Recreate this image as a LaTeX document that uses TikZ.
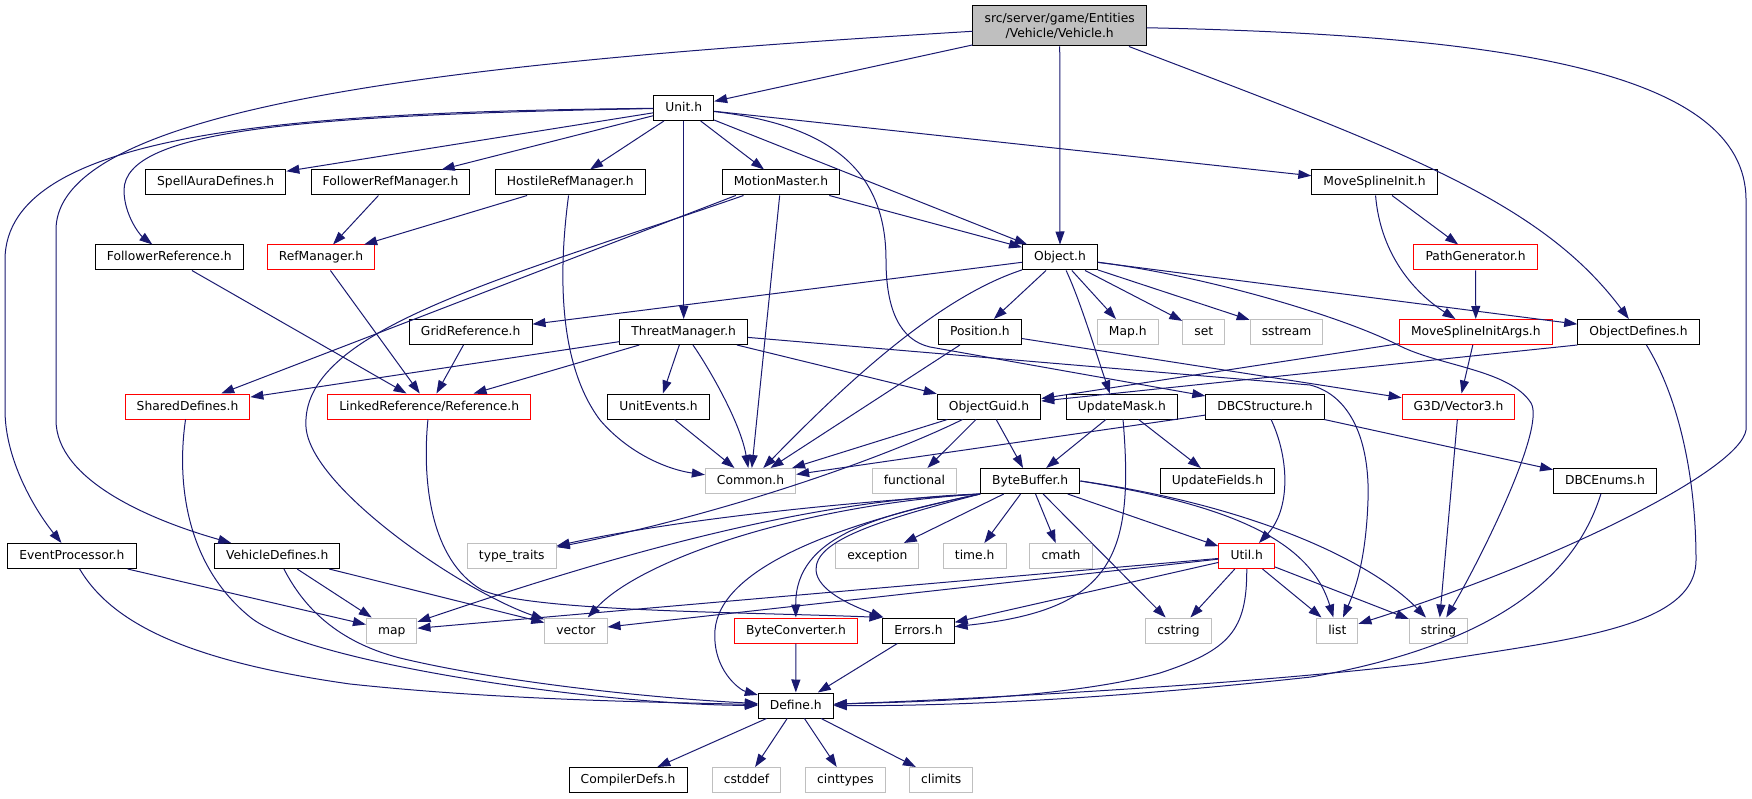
\documentclass[tikz,border=0pt]{standalone}
\usepackage{fontspec}
\setmainfont{DejaVu Sans}
\usetikzlibrary{arrows.meta}
\definecolor{edgeblue}{HTML}{191970}
\definecolor{sysgray}{HTML}{BFBFBF}

\begin{document}
\begin{tikzpicture}[x=1pt,y=-1pt,
  box/.style={draw, rectangle, line width=1pt, minimum height=25pt, inner xsep=11.6pt, inner ysep=0pt, font=\fontsize{12.3}{15.5}\selectfont},
  hdr/.style={box, text height=9pt, text depth=2pt},
  sys/.style={hdr, draw=sysgray},
  cut/.style={hdr, draw=red},
  dep/.style={draw=edgeblue, line width=1pt, -{Triangle[length=13pt,width=9pt]}}]
\useasboundingbox (0,0) rectangle (1752,799);

\node[box, fill=sysgray, align=center, minimum height=40pt] (veh) at (1059.7,26) {src/server/game/Entities\\/Vehicle/Vehicle.h};
\node[hdr] (unit) at (683.7,108) {Unit.h};
\node[hdr] (spell) at (215.7,182.5) {SpellAuraDefines.h};
\node[hdr] (frm) at (390.5,182.5) {FollowerRefManager.h};
\node[hdr] (hrm) at (570.3,182.5) {HostileRefManager.h};
\node[hdr] (mm) at (781,182.5) {MotionMaster.h};
\node[hdr] (msi) at (1374.5,182.5) {MoveSplineInit.h};
\node[hdr] (fref) at (169.3,257.5) {FollowerReference.h};
\node[cut] (refm) at (321,257.5) {RefManager.h};
\node[hdr] (obj) at (1060,257.5) {Object.h};
\node[cut] (pgen) at (1475.6,257.5) {PathGenerator.h};
\node[hdr] (gref) at (470.7,332) {GridReference.h};
\node[hdr] (tm) at (683.7,332) {ThreatManager.h};
\node[hdr] (pos) at (979.9,332) {Position.h};
\node[sys] (maph) at (1127.8,332) {Map.h};
\node[sys] (stdset) at (1203.8,332) {set};
\node[sys] (sstr) at (1286.5,332) {sstream};
\node[cut] (msia) at (1475.8,332) {MoveSplineInitArgs.h};
\node[hdr] (odef) at (1638.5,332) {ObjectDefines.h};
\node[cut] (sd) at (187.5,406.5) {SharedDefines.h};
\node[cut] (lref) at (429.2,406.5) {LinkedReference/Reference.h};
\node[hdr] (ue) at (658.5,406.5) {UnitEvents.h};
\node[hdr] (og) at (989,406.5) {ObjectGuid.h};
\node[hdr] (um) at (1121.9,406.5) {UpdateMask.h};
\node[hdr] (dbcs) at (1265,406.5) {DBCStructure.h};
\node[cut] (v3) at (1458.5,406.5) {G3D/Vector3.h};
\node[sys] (common) at (750.5,481) {Common.h};
\node[sys] (func) at (914.4,481) {functional};
\node[hdr] (bb) at (1030.2,481) {ByteBuffer.h};
\node[hdr] (uf) at (1217.5,481) {UpdateFields.h};
\node[hdr] (dbce) at (1605,481) {DBCEnums.h};
\node[hdr] (evp) at (71.9,556) {EventProcessor.h};
\node[hdr] (vdef) at (277.2,556) {VehicleDefines.h};
\node[sys] (tt) at (511.8,556) {type\_traits};
\node[sys] (exc) at (877.3,556) {exception};
\node[sys] (timeh) at (974.7,556) {time.h};
\node[sys] (cmath) at (1061,556) {cmath};
\node[cut] (util) at (1246.7,556) {Util.h};
\node[sys] (maps) at (391.7,630.5) {map};
\node[sys] (vec) at (575.9,630.5) {vector};
\node[cut] (bc) at (796,630.5) {ByteConverter.h};
\node[hdr] (err) at (918.5,630.5) {Errors.h};
\node[sys] (cstr) at (1178.5,630.5) {cstring};
\node[sys] (list) at (1337.3,630.5) {list};
\node[sys] (str) at (1438.6,630.5) {string};
\node[hdr] (def) at (795.8,705.5) {Define.h};
\node[hdr] (cdefs) at (628.1,780) {CompilerDefs.h};
\node[sys] (cstddef) at (746.5,780) {cstddef};
\node[sys] (cint) at (845.4,780) {cinttypes};
\node[sys] (climits) at (941.2,780) {climits};

\draw[dep] (veh) -- (unit);
\draw[dep] (veh) -- (obj);
\draw[dep] ([xshift=-18pt]veh.south east) .. controls (1400,150) and (1540,200) .. (odef);
\draw[dep] (veh) .. controls (500,60) and (56,100) .. (56,230) -- (56,420) .. controls (56,480) and (150,520) .. (vdef);
\draw[dep] (veh) .. controls (1500,35) and (1746,70) .. (1746,200) -- (1746,430) .. controls (1740,470) and (1560,560) .. (list);

\draw[dep] (unit) .. controls (300,112) and (5,130) .. (5,260) -- (5,410) .. controls (5,460) and (35,510) .. (evp);
\draw[dep] (unit) .. controls (300,115) and (125,130) .. (124,190) .. controls (124,215) and (140,235) .. (fref);
\draw[dep] (unit) -- (spell);
\draw[dep] (unit) -- (frm);
\draw[dep] (unit) -- (hrm);
\draw[dep] (unit) -- (mm);
\draw[dep] (unit) -- (tm);
\draw[dep] (unit) -- (obj);
\draw[dep] (unit) -- (msi);
\draw[dep] (unit) .. controls (830,125) and (886,170) .. (886,260) .. controls (886,310) and (900,340) .. (930,347) -- (dbcs);

\draw[dep] (frm) -- (refm);
\draw[dep] (hrm) -- (refm);
\draw[dep] (hrm) .. controls (560,260) and (555,360) .. (600,420) .. controls (630,455) and (670,470) .. (common);

\draw[dep] ([xshift=14pt]mm.south west) -- (sd);
\draw[dep] (mm) .. controls (500,280) and (300,330) .. (306,427) .. controls (310,487) and (460,590) .. (vec);
\draw[dep] (mm) -- (common);
\draw[dep] (mm) -- (obj);

\draw[dep] (msi) -- (pgen);
\draw[dep] (msi) .. controls (1380,250) and (1410,290) .. (msia);
\draw[dep] (pgen) -- (msia);

\draw[dep] (refm) -- (lref);
\draw[dep] (fref) -- (lref);
\draw[dep] (gref) -- (lref);

\draw[dep] (obj) -- (gref);
\draw[dep] (obj) .. controls (930,300) and (830,400) .. (common);
\draw[dep] (obj) -- (pos);
\draw[dep] (obj) -- (maph);
\draw[dep] (obj) -- (stdset);
\draw[dep] (obj) -- (sstr);
\draw[dep] (obj) .. controls (1080,300) and (1095,350) .. ([xshift=-12pt]um.north);
\draw[dep] (obj) -- (odef);
\draw[dep] (obj) .. controls (1200,275) and (1340,315) .. (1400,346) .. controls (1440,366) and (1510,370) .. (1531,403) .. controls (1546,428) and (1480,560) .. (str);

\draw[dep] (pos) -- (common);
\draw[dep] (pos) -- (v3);

\draw[dep] (tm) -- (sd);
\draw[dep] (tm) -- (lref);
\draw[dep] (tm) -- (ue);
\draw[dep] (tm) .. controls (705,362) and (740,420) .. (common);
\draw[dep] (tm) -- (og);
\draw[dep] (tm) -- (1310,385) .. controls (1350,395) and (1370,440) .. (1368,500) .. controls (1366,560) and (1355,590) .. (list);

\draw[dep] (msia) -- (og);
\draw[dep] (msia) -- (v3);
\draw[dep] (odef.south west) -- (og);
\draw[dep] (odef) .. controls (1680,400) and (1696,480) .. (1696,560) .. controls (1696,630) and (1560,640) .. (1424,663) .. controls (1250,685) and (950,700) .. (def);

\draw[dep] (ue) -- (common);
\draw[dep] (og) -- (common);
\draw[dep] (og) .. controls (880,460) and (720,515) .. (tt);
\draw[dep] (og) -- (func);
\draw[dep] (og) -- (bb);

\draw[dep] (um) -- (bb);
\draw[dep] (um) -- (uf);
\draw[dep] (um) .. controls (1135,560) and (1110,610) .. (err);

\draw[dep] (dbcs) -- (common);
\draw[dep] (dbcs) .. controls (1290,460) and (1290,510) .. (util);
\draw[dep] (dbcs) -- (dbce);
\draw[dep] (dbce) .. controls (1580,560) and (1520,640) .. (1311,677) .. controls (1100,700) and (950,706) .. (def);

\draw[dep] (v3) -- (str);

\draw[dep] (bb.south west) .. controls (800,505) and (650,525) .. (tt);
\draw[dep] (bb.south west) .. controls (800,500) and (600,560) .. (maps);
\draw[dep] (bb.south west) .. controls (800,505) and (640,560) .. (vec);
\draw[dep] (bb.south west) .. controls (830,525) and (720,570) .. (715,630) .. controls (712,670) and (740,690) .. (def);
\draw[dep] (bb.south west) .. controls (880,515) and (795,535) .. (bc);
\draw[dep] (bb.south west) .. controls (880,520) and (815,540) .. (816,570) .. controls (817,590) and (850,605) .. (err);
\draw[dep] (bb) -- (exc);
\draw[dep] (bb) -- (timeh);
\draw[dep] (bb) -- (cmath);
\draw[dep] (bb) -- (util);
\draw[dep] (bb) -- (cstr);
\draw[dep] (bb.east) .. controls (1230,505) and (1310,540) .. (list);
\draw[dep] (bb.east) .. controls (1250,505) and (1370,560) .. (str);

\draw[dep] (util) -- (maps);
\draw[dep] (util) -- (vec);
\draw[dep] (util) -- (err);
\draw[dep] (util) -- (cstr);
\draw[dep] (util) -- (list);
\draw[dep] (util) -- (str);
\draw[dep] (util) .. controls (1247,630) and (1230,650) .. (1160,673) .. controls (1060,700) and (900,702) .. (def);

\draw[dep] (err) -- ([xshift=22pt]def.north);
\draw[dep] (bc) -- (def);
\draw[dep] (evp) -- (maps);
\draw[dep] (evp) .. controls (110,620) and (180,660) .. (350,684) .. controls (500,700) and (650,702) .. (def);
\draw[dep] (vdef) -- (maps);
\draw[dep] (vdef) -- (vec);
\draw[dep] (vdef) .. controls (300,600) and (330,640) .. (400,658) .. controls (500,682) and (650,698) .. (def);
\draw[dep] (sd) .. controls (178,470) and (180,560) .. (250,617) .. controls (306,663) and (600,705) .. (def);
\draw[dep] (lref) .. controls (422,480) and (430,560) .. (482,590) .. controls (530,612) and (750,612) .. (err.north west);

\draw[dep] (def) -- (cdefs);
\draw[dep] (def) -- (cstddef);
\draw[dep] (def) -- (cint);
\draw[dep] (def) -- (climits);
\end{tikzpicture}
\end{document}
